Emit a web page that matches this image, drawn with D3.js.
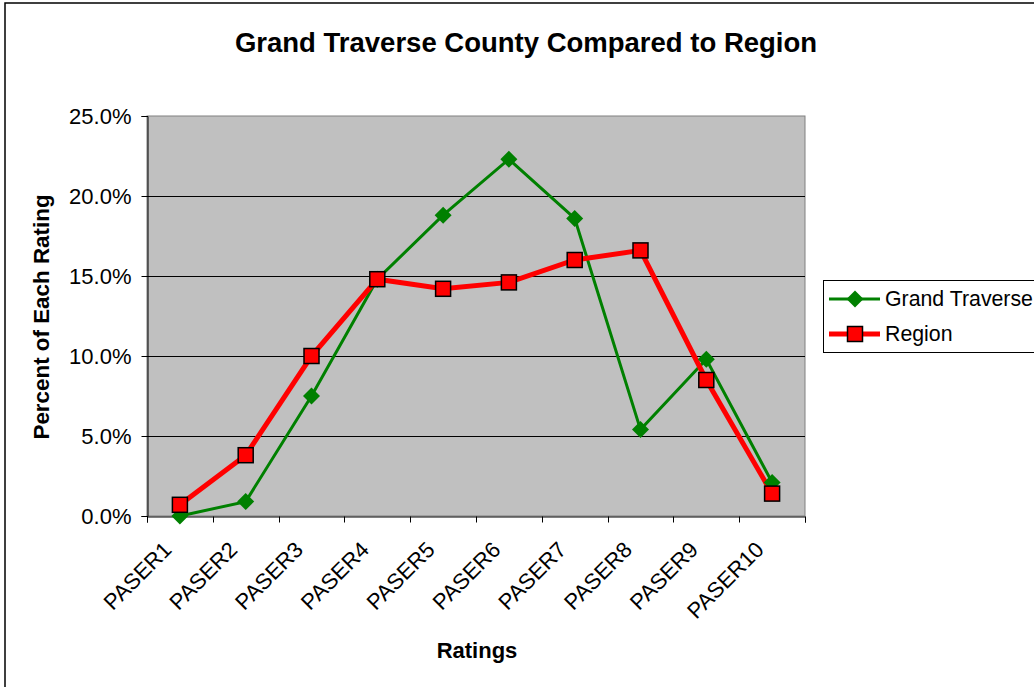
<!DOCTYPE html>
<html>
<head>
<meta charset="utf-8">
<script src="https://cdn.jsdelivr.net/npm/d3@7"></script>
<style>
  html, body { margin: 0; padding: 0; background: #fff; }
  svg { display: block; }
  text { font-family: Arial, "Liberation Sans", sans-serif; fill: #000; }
</style>
</head>
<body>
<svg id="chart" width="1034" height="687"></svg>
<script>
// ---- data ----
const categories = ["PASER1","PASER2","PASER3","PASER4","PASER5","PASER6","PASER7","PASER8","PASER9","PASER10"];
const grandTraverse = [0.0, 0.9, 7.5, 14.8, 18.8, 22.3, 18.6, 5.4, 9.8, 2.1];
const region = [0.7, 3.8, 10.0, 14.8, 14.2, 14.6, 16.0, 16.6, 8.5, 1.4];
const yTicks = [0, 5, 10, 15, 20, 25];
const seriesNames = ["Grand Traverse", "Region"];

const title = "Grand Traverse County Compared to Region";
const xTitle = "Ratings";
const yTitle = "Percent of Each Rating";

// ---- layout ----
const svg = d3.select("#chart");
const plot = { left: 147, right: 805, top: 116, bottom: 516 };

// outer frame
svg.append("rect").attr("x", 5).attr("y", 3).attr("width", 1200).attr("height", 900)
  .attr("fill", "#fff").attr("stroke", "#000").attr("stroke-width", 1.5);

const x = d3.scaleBand().domain(categories).range([plot.left, plot.right]);
const y = d3.scaleLinear().domain([0, 25]).range([plot.bottom, plot.top]);

// plot background
svg.append("rect").attr("x", plot.left).attr("y", plot.top)
  .attr("width", plot.right - plot.left).attr("height", plot.bottom - plot.top)
  .attr("fill", "#c0c0c0").attr("stroke", "#808080").attr("stroke-width", 1);

// gridlines
svg.append("g").selectAll("line").data(yTicks.filter(d => d > 0 && d < 25)).join("line")
  .attr("x1", plot.left).attr("x2", plot.right)
  .attr("y1", d => Math.round(y(d)) + 0.5).attr("y2", d => Math.round(y(d)) + 0.5)
  .attr("stroke", "#000").attr("stroke-width", 1);

// y axis
const yAxis = d3.axisLeft(y).tickValues(yTicks).tickSize(6).tickPadding(10)
  .tickFormat(d => d3.format(".1f")(d) + "%");
const gy = svg.append("g").attr("transform", `translate(${plot.left + 0.5},0)`).call(yAxis);
gy.select(".domain").attr("stroke", "#000");
gy.selectAll(".tick line").attr("stroke", "#000");
gy.selectAll(".tick text").attr("font-size", 22).attr("font-family", "Arial, 'Liberation Sans', sans-serif").attr("fill", "#000");

// x axis
const xAxis = d3.axisBottom(x).tickSize(6).tickFormat("");
const gx = svg.append("g").attr("transform", `translate(0,${plot.bottom + 0.5})`).call(xAxis);
gx.select(".domain").attr("stroke", "#000");
gx.selectAll(".tick").remove();
const bounds = categories.map(c => x(c)).concat([plot.right]);
gx.selectAll("line.bt").data(bounds).join("line").attr("class", "bt")
  .attr("x1", d => Math.round(d) + 0.5).attr("x2", d => Math.round(d) + 0.5)
  .attr("y1", 0).attr("y2", 6).attr("stroke", "#000");

// x labels rotated
svg.append("g").selectAll("text").data(categories).join("text")
  .attr("transform", d => `translate(${x(d) + x.bandwidth() / 2 - 7},551) rotate(-45)`)
  .attr("text-anchor", "end").attr("font-size", 22).text(d => d);

// lines
const cx = (d, i) => x(categories[i]) + x.bandwidth() / 2;
const line = d3.line().x((d, i) => cx(d, i)).y(d => y(d));

svg.append("path").datum(grandTraverse).attr("d", line)
  .attr("fill", "none").attr("stroke", "#008000").attr("stroke-width", 3);
svg.append("path").datum(region).attr("d", line)
  .attr("fill", "none").attr("stroke", "#ff0000").attr("stroke-width", 5);

const diamond = s => `M0,${-s}L${s},0L0,${s}L${-s},0Z`;

svg.append("g").selectAll("path").data(grandTraverse).join("path")
  .attr("transform", (d, i) => `translate(${cx(d, i)},${y(d)})`)
  .attr("d", diamond(8.5)).attr("fill", "#008000");
svg.append("g").selectAll("rect").data(region).join("rect")
  .attr("x", (d, i) => cx(d, i) - 7.5).attr("y", d => y(d) - 7.5)
  .attr("width", 15).attr("height", 15)
  .attr("fill", "#ff0000").attr("stroke", "#000").attr("stroke-width", 1.5);

// titles
svg.append("text").attr("x", 526).attr("y", 52).attr("text-anchor", "middle")
  .attr("font-size", 27.5).attr("font-weight", "bold").text(title);
svg.append("text").attr("x", 477).attr("y", 658).attr("text-anchor", "middle")
  .attr("font-size", 22).attr("font-weight", "bold").text(xTitle);
svg.append("text").attr("transform", "translate(49,317) rotate(-90)").attr("text-anchor", "middle")
  .attr("font-size", 22.4).attr("font-weight", "bold").text(yTitle);

// legend
const lg = svg.append("g");
lg.append("rect").attr("x", 823.5).attr("y", 280.5).attr("width", 300).attr("height", 72)
  .attr("fill", "#fff").attr("stroke", "#000").attr("stroke-width", 1);
const legendY = [299, 334];
const legendColors = ["#008000", "#ff0000"];
const legendWidths = [3, 5];
seriesNames.forEach((name, i) => {
  lg.append("line").attr("x1", 829).attr("x2", 880).attr("y1", legendY[i]).attr("y2", legendY[i])
    .attr("stroke", legendColors[i]).attr("stroke-width", legendWidths[i]);
  if (i === 0) {
    lg.append("path").attr("transform", `translate(855,${legendY[i]})`).attr("d", diamond(8.5)).attr("fill", "#008000");
  } else {
    lg.append("rect").attr("x", 847.5).attr("y", legendY[i] - 7.5).attr("width", 15).attr("height", 15)
      .attr("fill", "#ff0000").attr("stroke", "#000").attr("stroke-width", 1.5);
  }
  lg.append("text").attr("x", 885).attr("y", legendY[i]).attr("dy", "0.35em")
    .attr("font-size", 21.3).text(name);
});
</script>
</body>
</html>
